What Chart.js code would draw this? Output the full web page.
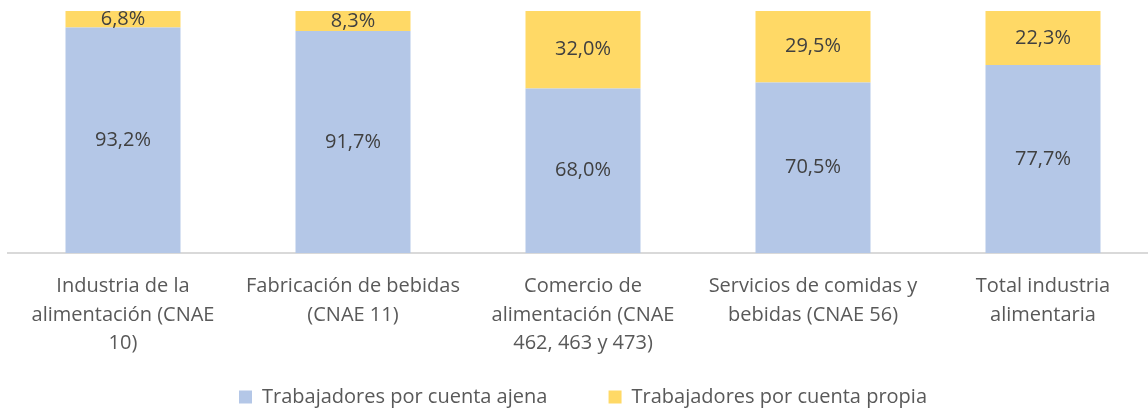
<!DOCTYPE html>
<html>
<head>
<meta charset="utf-8">
<script src="https://cdn.jsdelivr.net/npm/chart.js@4/dist/chart.umd.min.js"></script>
<style>
  html, body { margin: 0; padding: 0; background: #fff; }
  #wrap { width: 1148px; height: 410px; overflow: hidden; }
</style>
</head>
<body>
<div id="wrap"><canvas id="chart" width="1160" height="417"></canvas></div>
<script>
// categories (x labels, wrapped like the original)
const categories = [
  ['Industria de la', 'alimentación (CNAE', '10)'],
  ['Fabricación de bebidas', '(CNAE 11)'],
  ['Comercio de', 'alimentación (CNAE', '462, 463 y 473)'],
  ['Servicios de comidas y', 'bebidas (CNAE 56)'],
  ['Total industria', 'alimentaria']
];
const seriesNames = ['Trabajadores por cuenta ajena', 'Trabajadores por cuenta propia'];
const cuentaAjena = [93.2, 91.7, 68.0, 70.5, 77.7];
const cuentaPropia = [6.8, 8.3, 32.0, 29.5, 22.3];

const FONT = '"Open Sans", Lato, sans-serif';

const fmt = v => v.toFixed(1).replace('.', ',') + '%';

// draw value labels centred in every segment
const segmentLabels = {
  id: 'segmentLabels',
  afterDatasetsDraw(chart) {
    const ctx = chart.ctx;
    ctx.save();
    ctx.font = '20px ' + FONT;
    ctx.fillStyle = '#404040';
    ctx.textAlign = 'center';
    ctx.textBaseline = 'middle';
    chart.data.datasets.forEach((ds, i) => {
      chart.getDatasetMeta(i).data.forEach((bar, j) => {
        const p = bar.getProps(['x', 'y', 'base'], true);
        ctx.fillText(fmt(ds.data[j]), p.x, (p.y + p.base) / 2);
      });
    });
    ctx.restore();
  }
};

const ctx = document.getElementById('chart').getContext('2d');
new Chart(ctx, {
  type: 'bar',
  data: {
    labels: categories,
    datasets: [
      { label: seriesNames[0], data: cuentaAjena, backgroundColor: '#B4C7E7' },
      { label: seriesNames[1], data: cuentaPropia, backgroundColor: '#FFD966' }
    ]
  },
  options: {
    responsive: false,
    animation: false,
    layout: { padding: { left: 8, right: 2, top: 11, bottom: 0 } },
    datasets: { bar: { categoryPercentage: 0.5, barPercentage: 1 } },
    scales: {
      x: {
        stacked: true,
        grid: { display: false },
        border: { display: true, color: '#D9D9D9', width: 2 },
        ticks: {
          color: '#595959',
          font: { family: FONT, size: 20, lineHeight: 1.43 },
          padding: 11,
          maxRotation: 0,
          autoSkip: false
        },
        afterFit(scale) { scale.height = 104; }
      },
      y: {
        stacked: true,
        display: false,
        min: 0,
        max: 100
      }
    },
    plugins: {
      legend: {
        position: 'bottom',
        labels: {
          color: '#595959',
          font: { family: FONT, size: 20 },
          boxWidth: 13,
          boxHeight: 13,
          padding: 30,
          // a little extra room after the first entry, as in the original
          generateLabels(chart) {
            const items = Chart.defaults.plugins.legend.labels.generateLabels(chart);
            items[0].text = items[0].text + '      ';
            return items;
          }
        }
      },
      tooltip: { enabled: false }
    }
  },
  plugins: [segmentLabels]
});
</script>
</body>
</html>
